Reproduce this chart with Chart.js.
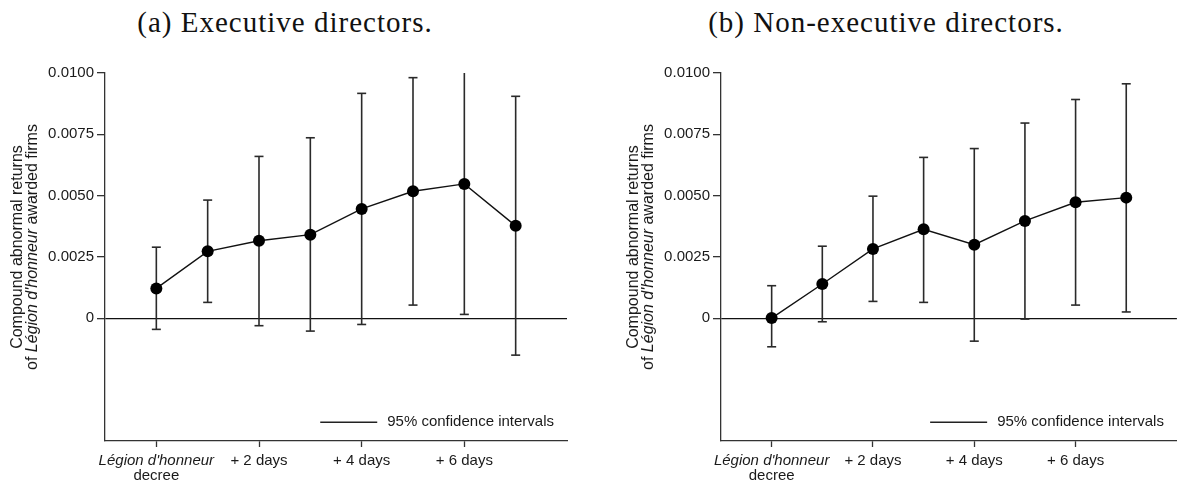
<!DOCTYPE html>
<html><head><meta charset="utf-8">
<script src="https://cdn.jsdelivr.net/npm/chart.js@4.4.1/dist/chart.umd.min.js"></script>
<style>
html,body{margin:0;padding:0;background:#fff;}
body{width:1183px;height:487px;overflow:hidden;position:relative;}
.title{position:absolute;top:8px;font-family:"Liberation Serif","Times New Roman",serif;font-size:29px;letter-spacing:1px;color:#111;text-align:center;line-height:29px;white-space:nowrap}
.wrap{position:absolute;top:0;height:487px}
</style></head><body>
<div class="title" style="left:0;width:570px">(a) Executive directors.</div>
<div class="title" style="left:590px;width:592px">(b) Non-executive directors.</div>
<div class="wrap" style="left:0;width:580px"><canvas id="ca"></canvas></div>
<div class="wrap" style="left:616px;width:567px"><canvas id="cb"></canvas></div>
<script>
// ---- data ----
const days = [0,1,2,3,4,5,6,7];
const execEst  = [0.00122,0.00273,0.00316,0.00341,0.00446,0.00518,0.00548,0.00377];
const execLow  = [-0.00045,0.00065,-0.00030,-0.00052,-0.00025,0.00054,0.00016,-0.00150];
const execHigh = [0.00290,0.00482,0.00660,0.00736,0.00917,0.00981,0.01080,0.00905];
const nonExecEst  = [0.00001,0.00140,0.00283,0.00363,0.00300,0.00397,0.00473,0.00492];
const nonExecLow  = [-0.00116,-0.00014,0.00069,0.00065,-0.00093,-0.00003,0.00054,0.00026];
const nonExecHigh = [0.00133,0.00294,0.00498,0.00656,0.00692,0.00796,0.00892,0.00956];
const yTicks = [0,0.0025,0.005,0.0075,0.01];
const xTickValues = [0,2,4,6];
const xTickLabels = [["Légion d'honneur","decree"],"+ 2 days","+ 4 days","+ 6 days"];
const legendLabel = "95% confidence intervals";
const yTitleLine1 = "Compound abnormal returns";
const yTitleLine2 = ["of ","Légion d'honneur"," awarded firms"];

const SANS = '"Liberation Sans", Arial, Helvetica, sans-serif';
const FS = 15;
const YT_FS = 16;
const X_TICK_LEN = 6, X_TICK_PAD = 6;

const textPlugin = {
  id: 'textPlugin',
  afterDraw(chart) {
    const {ctx, chartArea: ca, scales} = chart;
    ctx.save();
    ctx.fillStyle = '#1a1a1a';
    // italic first line of the first x tick label
    const xs = scales.x;
    const px = xs.getPixelForValue(xTickValues[0]);
    ctx.font = 'italic ' + FS + 'px ' + SANS;
    ctx.textAlign = 'center';
    ctx.textBaseline = 'middle';
    ctx.fillText(xTickLabels[0][0], px, ca.bottom + X_TICK_LEN + X_TICK_PAD + FS/2);
    // legend
    ctx.font = FS + 'px ' + SANS;
    const w = ctx.measureText(legendLabel).width;
    const tr = ca.right - 13;
    const ly = ca.bottom - 18.7;
    ctx.textAlign = 'right';
    ctx.fillText(legendLabel, tr, ly);
    ctx.strokeStyle = '#222';
    ctx.lineWidth = 1.5;
    ctx.beginPath();
    ctx.moveTo(tr - w - 10 - 57, ly);
    ctx.lineTo(tr - w - 10, ly);
    ctx.stroke();
    // y title
    ctx.translate(ca.left - 87.5, ca.top + 174);
    ctx.rotate(-Math.PI/2);
    ctx.textAlign = 'center';
    ctx.font = YT_FS + 'px ' + SANS;
    ctx.fillText(yTitleLine1, 0, 0);
    const fonts = [YT_FS + 'px ' + SANS, 'italic ' + YT_FS + 'px ' + SANS, YT_FS + 'px ' + SANS];
    let widths = yTitleLine2.map((t,i)=>{ctx.font = fonts[i]; return ctx.measureText(t).width;});
    let total = widths.reduce((a,b)=>a+b,0);
    let x = -total/2;
    ctx.textAlign = 'left';
    yTitleLine2.forEach((t,i)=>{ctx.font = fonts[i]; ctx.fillText(t, x, 15); x += widths[i];});
    ctx.restore();
  }
};

function makeChart(id, est, low, high, padRight) {
  const ciData = days.flatMap((d,i)=>[{x:d,y:low[i]},{x:d,y:high[i]},{x:d,y:null}]);
  const capData = days.flatMap((d,i)=>[{x:d,y:low[i]},{x:d,y:high[i]}]);
  return new Chart(document.getElementById(id), {
    type: 'line',
    data: {
      datasets: [
        {
          data: days.map((d,i)=>({x:d,y:est[i]})),
          borderColor: '#111', borderWidth: 1.4,
          pointRadius: 6, pointBackgroundColor: '#000', pointBorderColor: '#000', pointBorderWidth: 0,
          tension: 0
        },
        {
          data: ciData, borderColor: '#2a2a2a', borderWidth: 1.6, pointRadius: 0, spanGaps: false, clip: 0
        },
        {
          data: capData, showLine: false, pointStyle: 'line', pointRadius: 4.5,
          pointBorderColor: '#2a2a2a', pointBorderWidth: 1.6, clip: 0
        }
      ]
    },
    options: {
      responsive: true, maintainAspectRatio: false, animation: false, events: [],
      layout: {padding: {left: 0, right: padRight, top: 73, bottom: 0}},
      plugins: {legend: {display: false}, tooltip: {enabled: false}, title: {display: false}},
      scales: {
        x: {
          type: 'linear', min: -1, max: 8,
          afterBuildTicks: s => { s.ticks = xTickValues.map(v=>({value:v})); },
          afterFit: s => { s.height = 46; },
          grid: {drawOnChartArea: false, drawTicks: true, tickLength: X_TICK_LEN, tickColor: '#333', tickWidth: 1.3},
          border: {display: true, color: '#333', width: 1.3},
          ticks: {
            autoSkip: false, maxRotation: 0, padding: X_TICK_PAD, color: '#1a1a1a',
            font: {family: SANS, size: FS, lineHeight: 1.0},
            callback: v => { const i = xTickValues.indexOf(v); if (i < 0) return ''; return i === 0 ? ['', xTickLabels[0][1]] : xTickLabels[i]; }
          }
        },
        y: {
          type: 'linear', min: -0.005, max: 0.01,
          afterBuildTicks: s => { s.ticks = yTicks.map(v=>({value:v})); },
          afterFit: s => { s.width = 105; },
          grid: {
            drawOnChartArea: true, drawTicks: true, tickLength: 8, tickColor: '#333', tickWidth: 1.3,
            color: c => (c.tick && c.tick.value === 0) ? '#111' : 'rgba(0,0,0,0)', lineWidth: 1.3
          },
          border: {display: true, color: '#333', width: 1.3},
          ticks: {
            padding: 3, color: '#1a1a1a', font: {family: SANS, size: FS},
            callback: v => v === 0 ? '0' : v.toFixed(4)
          }
        }
      }
    },
    plugins: [textPlugin]
  });
}
makeChart('ca', execEst, execLow, execHigh, 13);
makeChart('cb', nonExecEst, nonExecLow, nonExecHigh, 0);
</script>
</body></html>
